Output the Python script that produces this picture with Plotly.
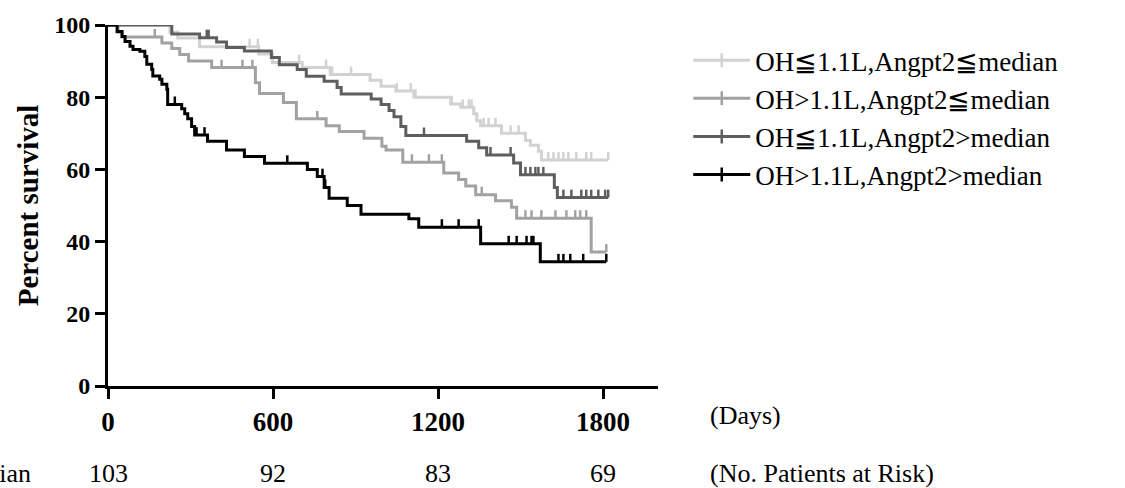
import numpy as np
import plotly.graph_objects as go

# ---------------- data ----------------
group_names = [
    "OH≦1.1L,Angpt2≦median",
    "OH>1.1L,Angpt2≦median",
    "OH≦1.1L,Angpt2>median",
    "OH>1.1L,Angpt2>median",
]

# OH<=1.1L, Angpt2<=median
lg_event_days = [225, 254, 333, 548, 598, 706, 808, 953, 993, 1047, 1112, 1246, 1283,
                 1330, 1341, 1355, 1431, 1518, 1536, 1565, 1576]
lg_survival = [98.0, 96.4, 94.0, 92.0, 89.6, 88.2, 86.3, 84.7, 83.0, 81.7, 80.0, 78.1, 77.2,
               75.4, 73.5, 72.1, 70.0, 68.0, 66.7, 65.0, 62.6]
lg_censored = [123, 515, 545, 695, 793, 815, 884, 1050, 1101, 1118, 1250, 1290, 1312, 1322,
               1366, 1384, 1409, 1464, 1493, 1601, 1620, 1638, 1656, 1674, 1703, 1739, 1757, 1819]

# OH>1.1L, Angpt2<=median
mg_event_days = [36, 51, 196, 232, 261, 293, 377, 536, 551, 638, 685, 793, 841, 931, 996,
                 1011, 1072, 1221, 1275, 1301, 1337, 1409, 1467, 1486, 1757]
mg_survival = [98.0, 96.7, 95.0, 93.5, 91.8, 90.0, 88.2, 84.0, 81.0, 78.5, 74.0, 72.1, 70.5,
               68.6, 66.4, 65.4, 62.0, 59.0, 57.2, 55.4, 53.0, 51.3, 49.5, 46.5, 37.1]
mg_censored = [170, 413, 489, 525, 761, 1105, 1167, 1214, 1359, 1518, 1540, 1576, 1627, 1667,
               1699, 1717, 1739, 1812]

# OH<=1.1L, Angpt2>median
dg_event_days = [232, 333, 395, 431, 496, 594, 623, 688, 721, 786, 833, 848, 957, 993, 1022,
                 1040, 1065, 1083, 1304, 1348, 1377, 1475, 1500, 1623, 1634]
dg_survival = [97.5, 96.5, 95.3, 93.8, 92.8, 91.0, 89.0, 87.7, 85.8, 84.4, 82.7, 80.9, 79.5,
               78.0, 76.3, 74.6, 71.9, 69.4, 67.8, 66.0, 64.0, 61.8, 58.5, 55.0, 52.2]
dg_censored = [87, 359, 366, 1149, 1391, 1464, 1518, 1536, 1554, 1565, 1583, 1656, 1685, 1721,
               1739, 1757, 1783, 1808, 1819]

# OH>1.1L, Angpt2>median
bk_event_days = [33, 51, 62, 80, 91, 116, 134, 141, 159, 163, 188, 196, 214, 217, 268, 279,
                 290, 304, 315, 362, 431, 496, 569, 725, 761, 786, 804, 870, 920, 1094, 1130,
                 1355, 1572]
bk_survival = [98.2, 96.8, 95.4, 94.1, 93.2, 92.7, 91.3, 89.1, 87.7, 85.9, 85.0, 83.6, 82.2,
               78.0, 76.8, 75.4, 74.0, 71.9, 69.5, 67.8, 65.4, 63.6, 61.7, 60.0, 58.0, 55.0,
               52.0, 50.0, 47.6, 46.3, 44.0, 39.4, 34.4]
bk_censored = [18, 243, 322, 351, 652, 780, 790, 1214, 1275, 1348, 1457, 1486, 1522, 1540,
               1547, 1638, 1656, 1681, 1728, 1812]

risk_days = [0, 600, 1200, 1800]
risk_counts = [103, 92, 83, 69]
risk_row_label = "OH≦1.1L,Angpt2≦median"

x_ticks = [0, 600, 1200, 1800]
y_ticks = [0, 20, 40, 60, 80, 100]

# ---------------- styling ----------------
colors = ["#d2d2d2", "#a2a2a2", "#5e5e5e", "#000000"]
SERIF = "Liberation Serif"

groups = [
    (lg_event_days, lg_survival, lg_censored),
    (mg_event_days, mg_survival, mg_censored),
    (dg_event_days, dg_survival, dg_censored),
    (bk_event_days, bk_survival, bk_censored),
]

fig = go.Figure()

for name, color, (ev, sv, cens) in zip(group_names, colors, groups):
    ev = np.asarray(ev, dtype=float)
    levels = np.concatenate([[100.0], np.asarray(sv, dtype=float)])
    end_day = max(max(cens), ev.max())
    xs = np.concatenate([[0.0], ev, [end_day]])
    ys = np.concatenate([levels, [levels[-1]]])
    fig.add_trace(go.Scatter(
        x=xs, y=ys, mode="lines", line=dict(color=color, width=3, shape="hv"),
        legendgroup=name, showlegend=False, cliponaxis=False, hoverinfo="skip",
    ))
    c = np.asarray(cens, dtype=float)
    cy = levels[np.searchsorted(ev, c, side="right")]
    fig.add_trace(go.Scatter(
        x=c, y=cy, mode="markers",
        marker=dict(size=1, color="rgba(0,0,0,0)"),
        error_y=dict(type="constant", value=2.2, symmetric=False, valueminus=0,
                     width=0, thickness=2.5, color=color),
        legendgroup=name, showlegend=False, cliponaxis=False,
    ))
    # legend entry (line with censor tick)
    fig.add_trace(go.Scatter(
        x=[None], y=[None], mode="lines+markers", name=name,
        line=dict(color=color, width=3),
        marker=dict(symbol="line-ns", size=10, line=dict(color=color, width=2.5)),
        legendgroup=name, showlegend=True,
    ))

annotations = []
annotations.append(dict(text="(Days)", xref="paper", yref="paper", x=1.09, y=-0.082,
                        xanchor="left", yanchor="middle", showarrow=False,
                        font=dict(family=SERIF, size=26, color="black")))
annotations.append(dict(text="(No. Patients at Risk)", xref="paper", yref="paper", x=1.09,
                        y=-0.243, xanchor="left", yanchor="middle", showarrow=False,
                        font=dict(family=SERIF, size=26, color="black")))
for d, n in zip(risk_days, risk_counts):
    annotations.append(dict(text=str(n), xref="x", yref="paper", x=d, y=-0.243,
                            xanchor="center", yanchor="middle", showarrow=False,
                            font=dict(family=SERIF, size=26, color="black")))
annotations.append(dict(text=risk_row_label, xref="paper", yref="paper", x=-0.137, y=-0.243,
                        xanchor="right", yanchor="middle", showarrow=False,
                        font=dict(family=SERIF, size=26, color="black")))

fig.update_layout(
    width=1125, height=488,
    margin=dict(l=108, r=467, t=20, b=102),
    paper_bgcolor="white", plot_bgcolor="white",
    showlegend=True,
    legend=dict(
        x=1.055, y=0.969, xanchor="left", yanchor="top",
        font=dict(family=SERIF, size=27, color="black"),
        itemwidth=57, traceorder="grouped", tracegroupgap=0,
        bgcolor="rgba(0,0,0,0)", borderwidth=0,
    ),
    xaxis=dict(
        range=[0, 2000], tickvals=x_ticks, ticktext=[str(v) for v in x_ticks],
        showgrid=False, zeroline=False, showline=True, linecolor="black", linewidth=3,
        ticks="outside", ticklen=10, tickwidth=3, tickcolor="black",
        tickfont=dict(family=SERIF, size=27, color="black", weight="bold"),
        ticklabelstandoff=0,
    ),
    yaxis=dict(
        range=[0, 100], tickvals=y_ticks, ticktext=[str(v) for v in y_ticks],
        showgrid=False, zeroline=False, showline=True, linecolor="black", linewidth=3,
        ticks="outside", ticklen=10, tickwidth=3, tickcolor="black",
        tickfont=dict(family=SERIF, size=24, color="black", weight="bold"),
        title=dict(text="Percent survival", standoff=8,
                   font=dict(family=SERIF, size=29, color="black", weight="bold")),
    ),
    annotations=annotations,
)

fig.write_html(
    "out.html",
    config={"displayModeBar": False},
    post_script="document.body.style.margin='0';document.body.style.overflow='hidden';",
)
